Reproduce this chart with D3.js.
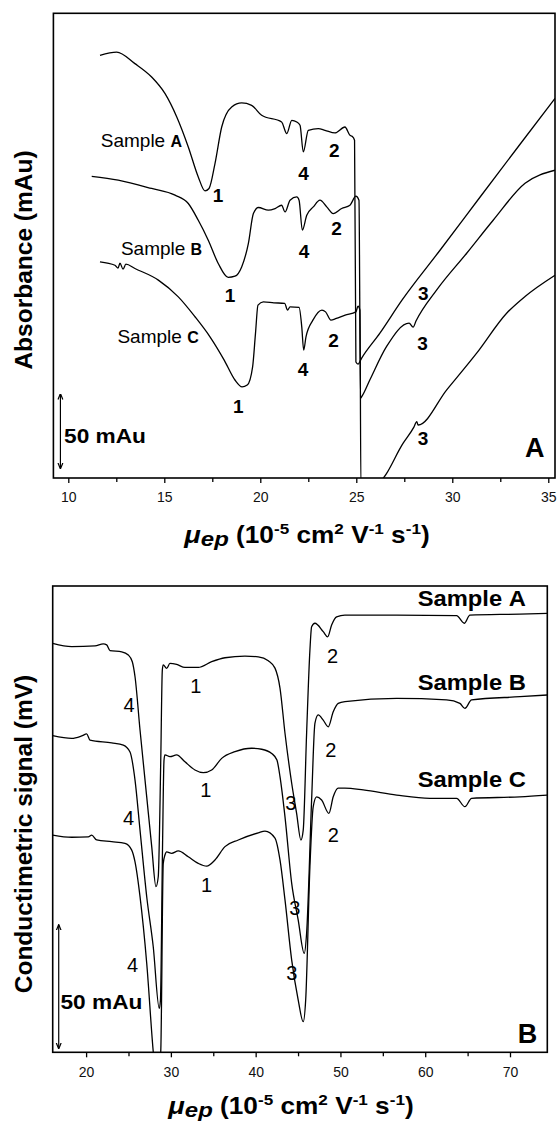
<!DOCTYPE html>
<html><head><meta charset="utf-8">
<script src="https://cdn.jsdelivr.net/npm/d3@7"></script>
<style>body{margin:0;background:#fff}svg{display:block}</style>
</head><body>
<svg id="chart" width="557" height="1127"></svg>
<script>
// ---------- Panel A (UV absorbance) : [mobility, absorbance mAu] ----------
const uvSampleA = [[11.65,284.7],[12.52,286.9],[13.47,279.1],[14.34,270.1],[15.04,258.9],[15.65,243.2],[16.25,223.0],[16.77,202.8],[17.12,193.4],[17.33,195.0],[17.64,211.8],[17.99,236.4],[18.51,249.9],[19.03,252.6],[19.55,251.0],[20.07,244.3],[21.11,239.8],[21.38,232.0],[21.64,240.9],[21.90,239.8],[22.07,237.6],[22.24,219.6],[22.50,234.2],[23.02,235.3],[23.37,234.2],[23.89,232.4],[24.41,236.4],[24.67,230.8],[24.78,230.2],[24.91,227.5],[24.98,78.1],[25.09,76.7],[25.28,80.8],[26.23,97.6],[27.38,119.8],[29.36,153.4],[31.44,189.1],[33.53,224.8],[35.35,255.7]];
const uvSampleB = [[11.22,203.2],[12.60,200.6],[14.34,195.0],[15.56,190.5],[16.25,184.9],[16.77,173.6],[17.29,160.2],[17.81,144.5],[18.33,135.1],[18.68,135.9],[19.03,142.2],[19.38,158.0],[19.64,178.1],[19.90,182.2],[20.42,180.4],[20.77,181.5],[21.11,183.7],[21.29,179.2],[21.55,187.1],[21.90,189.3],[22.02,187.1],[22.19,166.9],[22.42,177.0],[22.76,182.6],[23.11,187.1],[23.46,182.6],[23.80,178.1],[24.24,181.5],[24.67,183.7],[24.98,189.8],[25.14,187.1],[25.22,53.8],[25.30,55.2],[25.71,66.2],[26.58,88.6],[27.75,104.3],[27.96,101.6],[28.11,105.7],[29.19,126.7],[30.75,151.4],[32.14,173.8],[33.79,198.5],[35.35,207.3]];
const uvSampleC = [[11.65,145.6],[12.43,143.3],[12.59,141.3],[12.69,144.7],[12.85,140.7],[13.00,144.0],[13.47,141.1],[14.69,133.3],[15.73,122.0],[16.60,108.6],[17.38,95.1],[18.12,79.4],[18.68,66.0],[19.05,61.4],[19.32,62.6],[19.60,74.9],[19.75,97.4],[19.88,116.4],[20.16,118.6],[20.71,118.0],[21.27,117.6],[21.42,113.1],[21.55,115.3],[22.02,114.9],[22.16,101.8],[22.26,86.1],[22.38,95.1],[22.74,106.3],[23.21,113.1],[23.40,111.9],[23.68,106.3],[23.96,107.5],[24.42,109.7],[24.98,111.9],[25.09,115.8],[25.19,113.1],[25.24,-5],[26.13,-3],[27.45,23.6],[28.00,34.3],[28.15,38.0],[28.22,35.7],[29.71,59.4],[31.27,84.1],[32.83,111.0],[33.79,122.3],[35.35,136.6]];
const uvTicks = [10, 15, 20, 25, 30, 35];
const uvMinorTicks = [12.5, 17.5, 22.5, 27.5, 32.5];
const uvSampleNames = [{s:"A", x:11.69, y:222.8}, {s:"B", x:12.74, y:150.1}, {s:"C", x:12.56, y:90.9}];
const uvPeakLabels = [
  {t:"1", x:17.80, y:185.7}, {t:"4", x:22.25, y:200.6}, {t:"2", x:23.86, y:216.0},
  {t:"1", x:18.42, y:118.4}, {t:"4", x:22.28, y:148.1}, {t:"2", x:23.97, y:163.5},
  {t:"1", x:18.86, y:43.7},  {t:"4", x:22.22, y:68.6},  {t:"2", x:23.81, y:88.2},
  {t:"3", x:28.49, y:119.8}, {t:"3", x:28.45, y:86.1},  {t:"3", x:28.47, y:22.2}
];

// ---------- Panel B (conductimetric) : [mobility, signal] ----------
const condSampleA = [[16.06,165.8],[18.30,164.5],[21.05,164.8],[22.03,165.6],[22.43,165.2],[22.82,162.9],[24.20,162.4],[24.98,161.1],[25.45,158.4],[25.77,152.3],[26.36,130.7],[27.15,103.6],[27.74,83.4],[28.24,67.2],[28.51,71.2],[28.80,117.2],[28.99,155.0],[29.10,157.1],[29.50,155.7],[29.89,157.7],[30.68,157.3],[31.66,156.1],[33.23,156.1],[34.81,158.4],[36.38,160.0],[38.74,160.7],[40.31,160.4],[41.49,158.8],[42.28,155.8],[42.87,147.7],[43.46,129.4],[44.25,109.1],[44.83,96.9],[45.34,86.1],[45.61,90.1],[46.01,129.4],[46.40,163.1],[46.60,172.6],[46.99,174.0],[47.97,170.6],[48.49,168.5],[48.96,173.3],[49.55,176.6],[50.53,177.3],[56.63,177.3],[63.70,177.1],[64.61,174.0],[65.27,177.3],[71.17,177.7],[74.40,178.0]];
const condSampleB = [[16.06,128.4],[18.30,127.3],[19.48,128.3],[20.07,129.1],[20.46,126.6],[23.02,125.5],[24.39,124.6],[25.18,121.8],[25.77,110.4],[26.36,90.1],[27.15,63.1],[27.92,42.8],[28.63,17.8],[28.77,21.2],[29.01,82.0],[29.19,118.5],[29.30,120.6],[29.89,119.9],[30.68,120.6],[31.66,117.8],[32.84,114.5],[33.82,113.4],[34.81,114.5],[35.99,119.2],[37.56,121.9],[39.53,123.3],[40.71,122.9],[41.89,121.2],[42.51,118.5],[42.87,111.8],[43.46,95.5],[44.25,68.5],[45.02,53.6],[45.73,40.1],[46.01,48.3],[46.60,102.3],[46.99,133.4],[47.38,136.8],[47.97,134.7],[48.56,132.0],[49.15,138.1],[49.74,141.5],[50.53,142.2],[56.63,143.5],[62.52,142.9],[64.09,141.5],[64.68,139.5],[65.47,142.9],[71.17,144.2],[74.40,144.9]];
const condSampleC = [[16.06,88.1],[18.30,87.2],[20.26,87.4],[20.66,88.1],[21.25,86.1],[23.02,85.4],[24.59,84.7],[25.38,82.0],[25.77,77.2],[26.36,63.1],[27.15,36.1],[27.92,0.2],[28.24,-11],[28.80,0],[29.10,76.6],[29.30,80.0],[29.50,81.3],[30.09,80.7],[30.87,81.7],[32.05,79.3],[33.23,76.6],[34.22,75.5],[35.20,78.0],[36.38,83.4],[37.95,86.1],[40.31,89.0],[41.10,89.7],[42.28,86.9],[42.87,78.0],[43.46,61.8],[44.25,37.4],[45.02,21.2],[45.61,12.4],[45.90,21.2],[46.40,75.3],[46.79,99.6],[47.19,103.6],[47.78,102.3],[48.64,96.9],[49.15,103.6],[49.74,107.1],[50.53,107.1],[52.69,106.4],[56.63,104.3],[60.55,103.0],[63.70,103.0],[64.68,99.6],[65.47,103.0],[71.17,103.6],[74.40,104.3]];
const condTicks = [20, 30, 40, 50, 60, 70];
const condMinorTicks = [25, 35, 45, 55, 65];
const condSampleNames = [{s:"A", x:71.87, y:181.0}, {s:"B", x:71.87, y:147.0}, {s:"C", x:71.87, y:107.5}];
const condPeakLabels = [
  {t:"4", x:25.06, y:138.0}, {t:"4", x:25.02, y:92.2}, {t:"4", x:25.47, y:32.6},
  {t:"1", x:32.94, y:145.7}, {t:"1", x:34.12, y:103.5}, {t:"1", x:34.22, y:65.0},
  {t:"2", x:49.06, y:157.9}, {t:"2", x:48.86, y:119.7}, {t:"2", x:49.17, y:85.3},
  {t:"3", x:44.14, y:98.3},  {t:"3", x:44.63, y:55.7},  {t:"3", x:44.25, y:29.3}
];

const FONT = "'Liberation Sans', Arial, Helvetica, sans-serif";
const svg = d3.select("#chart");
const defs = svg.append("defs");
defs.append("marker").attr("id","ah").attr("viewBox","0 0 10 10").attr("refX",9).attr("refY",5)
  .attr("markerWidth",5).attr("markerHeight",6).attr("orient","auto-start-reverse")
  .append("path").attr("d","M0,1 L10,5 L0,9").attr("fill","none").attr("stroke","#000").attr("stroke-width",2);

function txt(g, x, y, str, opt) {
  const sx = opt.sx || 1;
  const t = g.append("text")
    .attr("transform", `translate(${x},${y}) scale(${sx},1)`)
    .attr("font-family", FONT).attr("font-size", opt.size)
    .attr("font-weight", opt.weight || "normal")
    .attr("text-anchor", opt.anchor || "start").attr("fill", "#000");
  if (str !== null) t.text(str);
  return t;
}

function panel(cfg) {
  const x = d3.scaleLinear().domain(cfg.xDomain).range([cfg.left, cfg.right]);
  const y = d3.scaleLinear().domain(cfg.yDomain).range([cfg.bottom, cfg.top]);
  const g = svg.append("g");
  const cid = "clip" + cfg.id;
  defs.append("clipPath").attr("id", cid).append("rect")
    .attr("x", cfg.left).attr("y", cfg.top).attr("width", cfg.right - cfg.left).attr("height", cfg.bottom - cfg.top);
  const line = d3.line().x(d => x(d[0])).y(d => y(d[1])).curve(d3.curveMonotoneX);
  const cg = g.append("g").attr("clip-path", `url(#${cid})`);
  cfg.series.forEach(s => cg.append("path").attr("d", line(s)).attr("fill","none")
    .attr("stroke","#000").attr("stroke-width",1.3).attr("stroke-linejoin","round"));

  const ax = g.append("g").attr("transform", `translate(0,${cfg.bottom})`)
    .call(d3.axisBottom(x).tickValues(cfg.ticks).tickSize(5).tickFormat(d3.format("d")));
  ax.select(".domain").remove();
  ax.selectAll("line").attr("stroke","#000").attr("stroke-width",1.3);
  ax.selectAll("text").attr("y", cfg.tickLabelOffset).attr("dy", 0)
    .attr("font-family", FONT).attr("font-size", 14).attr("fill", "#111");
  const mx = g.append("g").attr("transform", `translate(0,${cfg.bottom})`)
    .call(d3.axisBottom(x).tickValues(cfg.minor).tickSize(4).tickFormat(""));
  mx.select(".domain").remove();
  mx.selectAll("line").attr("stroke","#000").attr("stroke-width",1.3);

  g.append("rect").attr("x", cfg.left).attr("y", cfg.top)
    .attr("width", cfg.right - cfg.left).attr("height", cfg.bottom - cfg.top)
    .attr("fill","none").attr("stroke","#000").attr("stroke-width",1.6);

  g.append("line").attr("x1", x(cfg.bar.x)).attr("x2", x(cfg.bar.x))
    .attr("y1", y(cfg.bar.y0)).attr("y2", y(cfg.bar.y1))
    .attr("stroke","#000").attr("stroke-width",1.2)
    .attr("marker-start","url(#ah)").attr("marker-end","url(#ah)");
  txt(g, x(cfg.bar.tx), y(cfg.bar.ty), "50 mAu", {size: 21, weight: "bold", sx: 1.08});

  txt(g, x(cfg.letter.x), y(cfg.letter.y), cfg.letter.t, {size: 27, weight: "bold", anchor: "end"});

  const xt = txt(g, cfg.xTitle.x, cfg.xTitle.y, null, {size: 23, weight: "bold", anchor: "middle", sx: 1.14});
  xt.append("tspan").attr("font-style","italic").attr("font-size",24).text("\u03BC");
  xt.append("tspan").attr("font-style","italic").attr("font-size",21).attr("dy",3).text("ep");
  xt.append("tspan").attr("dy",-3).text(" (10");
  xt.append("tspan").attr("font-size",15).attr("dy",-9).text("-5");
  xt.append("tspan").attr("dy",9).text(" cm");
  xt.append("tspan").attr("font-size",15).attr("dy",-9).text("2");
  xt.append("tspan").attr("dy",9).text(" V");
  xt.append("tspan").attr("font-size",15).attr("dy",-9).text("-1");
  xt.append("tspan").attr("dy",9).text(" s");
  xt.append("tspan").attr("font-size",15).attr("dy",-9).text("-1");
  xt.append("tspan").attr("dy",9).text(")");

  g.append("text").attr("transform", `translate(${cfg.yTitle.x},${cfg.yTitle.y}) rotate(-90)`)
    .attr("font-family", FONT).attr("font-size", 24.5).attr("font-weight","bold")
    .attr("text-anchor","middle").text(cfg.yTitle.t);

  return {g, x, y};
}

const pA = panel({
  id: "A", left: 53.4, right: 555, top: 13.3, bottom: 478,
  xDomain: [9.224, 35.35], yDomain: [0, 313],
  series: [uvSampleA, uvSampleB, uvSampleC],
  ticks: uvTicks, minor: uvMinorTicks, tickLabelOffset: 23.7,
  bar: {x: 9.59, y0: 56.5, y1: 6.5, tx: 9.78, ty: 23.6},
  letter: {t: "A", x: 34.80, y: 14.3},
  xTitle: {x: 307, y: 543},
  yTitle: {x: 32, y: 260, t: "Absorbance (mAu)"}
});
uvSampleNames.forEach(d => {
  const t = txt(pA.g, pA.x(d.x), pA.y(d.y), null, {size: 19});
  t.append("tspan").text("Sample ");
  t.append("tspan").attr("font-weight","bold").attr("font-size",16).text(d.s);
});
uvPeakLabels.forEach(d => txt(pA.g, pA.x(d.x), pA.y(d.y), d.t, {size: 19, weight: "bold", anchor: "middle"}));

const pB = panel({
  id: "B", left: 52.7, right: 547.3, top: 586, bottom: 1052.3,
  xDomain: [16.06, 74.4], yDomain: [0, 189.1],
  series: [condSampleA, condSampleB, condSampleC],
  ticks: condTicks, minor: condMinorTicks, tickLabelOffset: 24.7,
  bar: {x: 16.77, y0: 51.6, y1: 1.6, tx: 16.98, ty: 17.6},
  letter: {t: "B", x: 73.22, y: 3.8},
  xTitle: {x: 291, y: 1114},
  yTitle: {x: 32, y: 834, t: "Conductimetric signal (mV)"}
});
condSampleNames.forEach(d => {
  const t = txt(pB.g, pB.x(d.x), pB.y(d.y), null, {size: 22, weight: "bold", anchor: "end", sx: 1.08});
  t.append("tspan").text("Sample ");
  t.append("tspan").text(d.s);
});
condPeakLabels.forEach(d => txt(pB.g, pB.x(d.x), pB.y(d.y), d.t, {size: 20, anchor: "middle"}));
</script>
</body></html>
